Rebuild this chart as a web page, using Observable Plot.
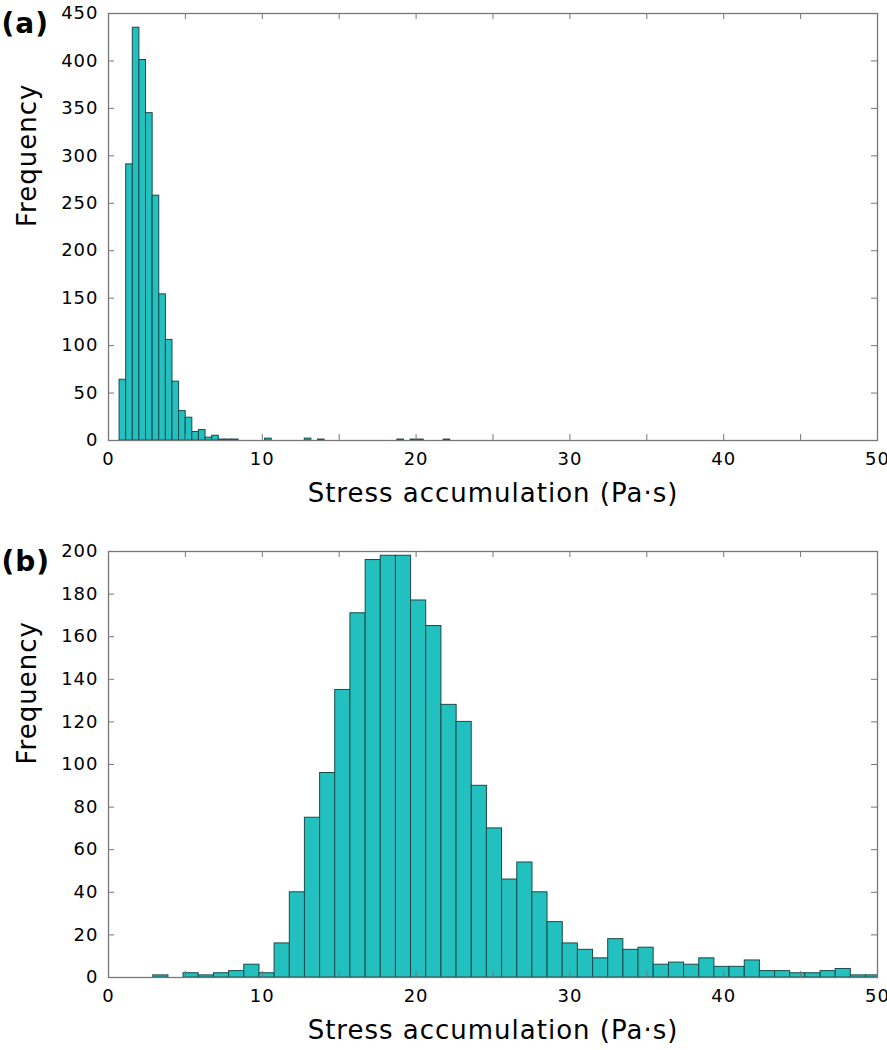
<!DOCTYPE html>
<html><head><meta charset="utf-8">
<script src="https://cdn.jsdelivr.net/npm/d3@7"></script>
<script src="https://cdn.jsdelivr.net/npm/@observablehq/plot@0.6"></script>
<style>
body{margin:0;background:#fff;}
#chart svg{display:block;}
</style></head><body><div id="chart"></div>
<script>
// Tick values
const xTicks = [0, 10, 20, 30, 40, 50];
const xMinorTicks = [5, 10, 15, 20, 25, 30, 35, 40, 45];
const yTicksA = [0, 50, 100, 150, 200, 250, 300, 350, 400, 450];
const yInnerA = [50, 100, 150, 200, 250, 300, 350, 400];
const yTicksB = [0, 20, 40, 60, 80, 100, 120, 140, 160, 180, 200];
const yInnerB = [20, 40, 60, 80, 100, 120, 140, 160, 180];

// Panel (a): histogram bins (left edges) and counts
const binWidthA = 0.43;
const binLeftA = [0.72, 1.15, 1.58, 2.01, 2.44, 2.87, 3.30, 3.73, 4.16, 4.59, 5.02, 5.45, 5.88, 6.31, 6.74, 7.17, 7.60, 8.03,
                  10.18, 12.76, 13.62, 18.78, 19.64, 20.07, 21.79];
const countsA = [64, 291, 435, 401, 345, 258, 154, 106, 62, 31, 24, 9, 11, 3, 5, 1, 1, 1,
                 2, 2, 1, 1, 1, 1, 1];

// Panel (b): histogram bins (left edges) and counts
const binWidthB = 0.986;
const binLeftB = [2.91, 4.88, 5.87, 6.86, 7.84, 8.83, 9.81, 10.80, 11.79, 12.77, 13.76, 14.74, 15.73, 16.72, 17.70,
                  18.69, 19.67, 20.66, 21.65, 22.63, 23.62, 24.60, 25.59, 26.58, 27.56, 28.55, 29.53, 30.52, 31.51,
                  32.49, 33.48, 34.46, 35.45, 36.44, 37.42, 38.41, 39.39, 40.38, 41.37, 42.35, 43.34, 44.32, 45.31,
                  46.30, 47.28, 48.27, 49.25];
const countsB = [1, 2, 1, 2, 3, 6, 2, 16, 40, 75, 96, 135, 171, 196, 198,
                 198, 177, 165, 128, 120, 90, 70, 46, 54, 40, 26, 16, 13, 9,
                 18, 13, 14, 6, 7, 6, 9, 5, 5, 8, 3, 3, 2, 2,
                 3, 4, 1, 1];

const panelLabels = ["(a)", "(b)"];
const xLabel = "Stress accumulation (Pa·s)";
const yLabel = "Frequency";

function panel({lefts, counts, bw, yMax, yTicks, yInner, label, height, marginTop, marginBottom}) {
  const W = 887, mL = 108, mR = 10;
  const frameH = height - marginTop - marginBottom;
  const frameW = W - mL - mR;
  const tick = 6;
  const data = lefts.map((l, i) => ({x1: l, x2: l + bw, y: counts[i]}));
  return Plot.plot({
    width: W, height, marginLeft: mL, marginRight: mR, marginTop, marginBottom,
    style: {fontFamily: "'DejaVu Sans', sans-serif", fontSize: "18px", color: "#000", background: "#fff", letterSpacing: "1px", overflow: "visible"},
    x: {domain: [0, 50], ticks: xTicks, tickSize: 0, tickPadding: 12, label: null},
    y: {domain: [0, yMax], ticks: yTicks, tickSize: 0, tickPadding: 10, label: null},
    marks: [
      Plot.rectY(data, {x1: "x1", x2: "x2", y: "y", fill: "#22c1c0", stroke: "#1b4a4a", strokeWidth: 1, clip: true}),
      Plot.ruleX(xMinorTicks, {x: d => d, insetTop: frameH - tick, stroke: "#777"}),
      Plot.ruleX(xMinorTicks, {x: d => d, insetBottom: frameH - tick, stroke: "#777"}),
      Plot.ruleY(yInner, {y: d => d, insetRight: frameW - tick, stroke: "#777"}),
      Plot.ruleY(yInner, {y: d => d, insetLeft: frameW - tick, stroke: "#777"}),
      Plot.frame({stroke: "#777", strokeWidth: 1.3}),
      Plot.text([label], {frameAnchor: "top-left", text: d => d, dx: -107, dy: 19, textAnchor: "start", lineAnchor: "bottom", fontSize: 28, fontWeight: "bold"}),
      Plot.text([yLabel], {frameAnchor: "left", text: d => d, dx: -81, rotate: -90, fontSize: 26}),
      Plot.text([xLabel], {frameAnchor: "bottom", text: d => d, dy: 61, lineAnchor: "bottom", fontSize: 26})
    ]
  });
}

const chart = document.getElementById("chart");
chart.appendChild(panel({lefts: binLeftA, counts: countsA, bw: binWidthA, yMax: 450, yTicks: yTicksA, yInner: yInnerA,
  label: panelLabels[0], height: 530, marginTop: 13, marginBottom: 90}));
chart.appendChild(panel({lefts: binLeftB, counts: countsB, bw: binWidthB, yMax: 200, yTicks: yTicksB, yInner: yInnerB,
  label: panelLabels[1], height: 520, marginTop: 21, marginBottom: 73}));
</script>
</body></html>
